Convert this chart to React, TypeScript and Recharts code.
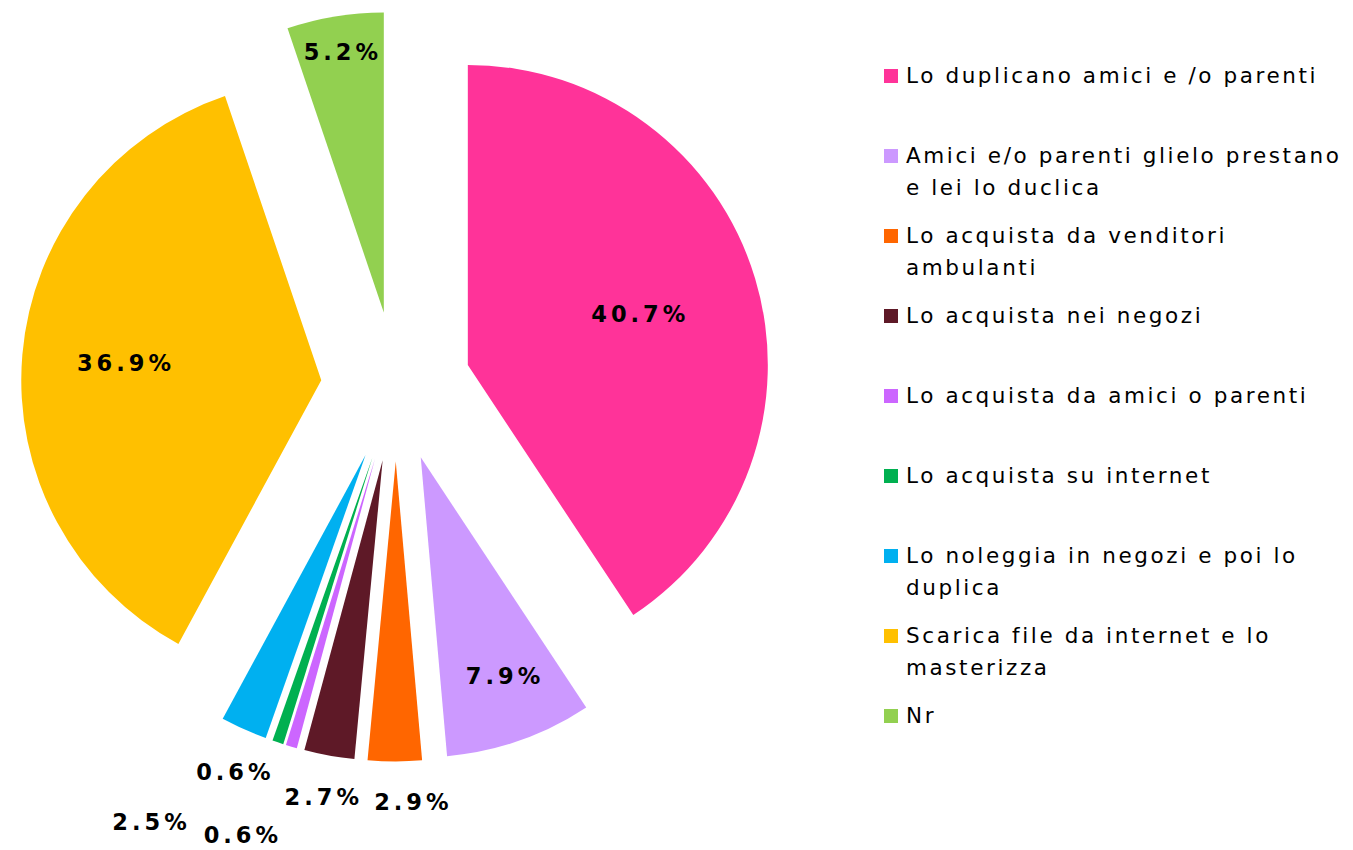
import { PieChart, Pie, Sector, Legend } from "recharts";

const categories = [
  "Lo duplicano amici e /o parenti",
  "Amici e/o parenti glielo prestano e lei lo duclica",
  "Lo acquista da venditori ambulanti",
  "Lo acquista nei negozi",
  "Lo acquista da amici o parenti",
  "Lo acquista su internet",
  "Lo noleggia in negozi e poi lo duplica",
  "Scarica file da internet e lo masterizza",
  "Nr",
];
const shares = [40.7, 7.9, 2.9, 2.7, 0.6, 0.6, 2.5, 36.9, 5.2];
const colors = [
  "#FF3399",
  "#CC99FF",
  "#FF6600",
  "#5E1927",
  "#CC66FF",
  "#00B050",
  "#00B0F0",
  "#FFC000",
  "#92D050",
];

// where the % labels sit: distance from the pie centre + angle nudge (deg),
// the small ones were moved by hand in the original to avoid overlaps
const labelDist = [253, 309, 416, 417, 418, 475, 500, 273, 339];
const labelNudge = [0, 1, 2.3, 0, -6.7, -0.7, -5.6, 0, 0];

const EXPLODE = 75;
const RAD = Math.PI / 180;
const FONT = '"DejaVu Sans", Verdana, sans-serif';

const data = categories.map((name, i) => ({ name, value: shares[i] }));

// draws the exploded slice and its label (the pie's own sectors are left unfilled)
function renderSlice(props: any) {
  const { cx, cy, midAngle, outerRadius, startAngle, endAngle, index, value } = props;
  const ox = cx + EXPLODE * Math.cos(-midAngle * RAD);
  const oy = cy + EXPLODE * Math.sin(-midAngle * RAD);
  const la = midAngle + labelNudge[index];
  const lx = cx + labelDist[index] * Math.cos(-la * RAD);
  const ly = cy + labelDist[index] * Math.sin(-la * RAD);
  return (
    <g key={`slice-${index}`}>
      <Sector
        cx={ox}
        cy={oy}
        innerRadius={0}
        outerRadius={outerRadius}
        startAngle={startAngle}
        endAngle={endAngle}
        fill={colors[index]}
        stroke="none"
      />
      <text
        x={lx + 2}
        y={ly}
        textAnchor="middle"
        dominantBaseline="central"
        fontFamily={FONT}
        fontWeight="bold"
        fontSize={22.5}
        letterSpacing={4}
        fill="#000"
      >
        {value.toFixed(1)}%
      </text>
    </g>
  );
}

function LegendBox() {
  return (
    <div
      style={{
        fontFamily: FONT,
        fontSize: 21.5,
        letterSpacing: 2.6,
        lineHeight: "32px",
        color: "#000",
        textAlign: "left",
      }}
    >
      {categories.map((c, i) => (
        <div key={c} style={{ position: "relative", height: 80, paddingLeft: 22, width: 440 }}>
          <span
            style={{
              position: "absolute",
              left: 0,
              top: 9.2,
              width: 14,
              height: 14,
              background: colors[i],
            }}
          />
          {c}
        </div>
      ))}
    </div>
  );
}

export default function App() {
  return (
    <PieChart width={1345} height={842} margin={{ top: 0, right: 0, bottom: 0, left: 0 }}>
      <Pie
        data={data}
        dataKey="value"
        nameKey="name"
        cx={388}
        cy={378.5}
        outerRadius={300}
        startAngle={90}
        endAngle={-270}
        fill="none"
        stroke="none"
        labelLine={false}
        label={renderSlice}
        isAnimationActive={false}
      />
      <Legend
        layout="vertical"
        align="right"
        verticalAlign="top"
        content={() => <LegendBox />}
        wrapperStyle={{ left: 876, top: 51.8, width: 462 }}
      />
    </PieChart>
  );
}
